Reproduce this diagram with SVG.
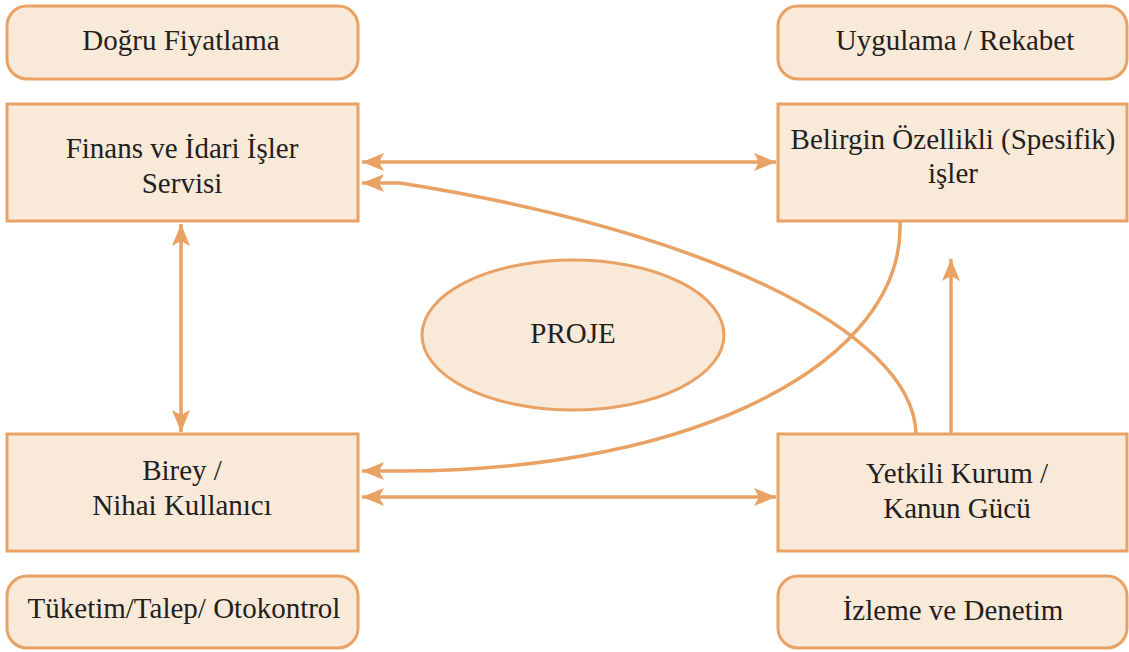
<svg xmlns="http://www.w3.org/2000/svg" width="1129" height="652" viewBox="0 0 1129 652">
  <style>
    .box { fill: #F9E9D9; stroke: #E9A263; stroke-width: 3; }
    .lbl { font-size: 29px; fill: #231F20; text-anchor: middle; }
    .con { fill: none; stroke: #E9A263; stroke-width: 3.5; }
  </style>
  <defs>
    <marker id="arrow" viewBox="0 -10 24 20" refX="22" refY="0" markerWidth="24" markerHeight="20" markerUnits="userSpaceOnUse" orient="auto-start-reverse">
      <path d="M0,-9 L22,0 L0,9 L5,0 Z" fill="#E9A263"/>
    </marker>
  </defs>

  <rect width="1129" height="652" fill="#FFFFFF"/>

  <!-- connectors -->
  <g id="connectors">
    <line class="con" x1="362" y1="162" x2="776" y2="162" marker-start="url(#arrow)" marker-end="url(#arrow)"/>
    <line class="con" x1="362" y1="497" x2="776" y2="497" marker-start="url(#arrow)" marker-end="url(#arrow)"/>
    <line class="con" x1="181" y1="224" x2="181" y2="432" marker-start="url(#arrow)" marker-end="url(#arrow)"/>
    <line class="con" x1="951" y1="433" x2="951" y2="259" marker-end="url(#arrow)"/>
    <path class="con" d="M916,433 C912,330 700,230 400,183 L362,183" marker-end="url(#arrow)"/>
    <path class="con" d="M900,222 C905,360 700,471 400,471 L362,471" marker-end="url(#arrow)"/>
  </g>

  <g font-family="Liberation Serif, Times New Roman, serif">
    <!-- left column -->
    <g id="dogru-fiyatlama">
      <rect class="box" x="7" y="6" width="351" height="73" rx="20"/>
      <text class="lbl" x="181" y="50">Doğru Fiyatlama</text>
    </g>
    <g id="finans">
      <rect class="box" x="7" y="104" width="351" height="117"/>
      <text class="lbl" x="182" y="158">Finans ve İdari İşler</text>
      <text class="lbl" x="182" y="193">Servisi</text>
    </g>
    <g id="birey">
      <rect class="box" x="7" y="434" width="351" height="117"/>
      <text class="lbl" x="182" y="480">Birey /</text>
      <text class="lbl" x="182" y="515">Nihai Kullanıcı</text>
    </g>
    <g id="tuketim">
      <rect class="box" x="7" y="576" width="351" height="72" rx="20"/>
      <text class="lbl" x="184" y="618">Tüketim/Talep/ Otokontrol</text>
    </g>

    <!-- right column -->
    <g id="uygulama">
      <rect class="box" x="778" y="6" width="349" height="73" rx="20"/>
      <text class="lbl" x="955" y="50">Uygulama / Rekabet</text>
    </g>
    <g id="belirgin">
      <rect class="box" x="778" y="104" width="349" height="117"/>
      <text class="lbl" x="953" y="149">Belirgin Özellikli (Spesifik)</text>
      <text class="lbl" x="953" y="183">işler</text>
    </g>
    <g id="yetkili">
      <rect class="box" x="778" y="434" width="349" height="117"/>
      <text class="lbl" x="957" y="483">Yetkili Kurum /</text>
      <text class="lbl" x="957" y="518">Kanun Gücü</text>
    </g>
    <g id="izleme">
      <rect class="box" x="778" y="576" width="349" height="72" rx="20"/>
      <text class="lbl" x="953" y="620">İzleme ve Denetim</text>
    </g>

    <!-- centre -->
    <g id="proje">
      <ellipse class="box" cx="573" cy="335" rx="151" ry="75"/>
      <text class="lbl" x="573" y="343">PROJE</text>
    </g>
  </g>
</svg>
